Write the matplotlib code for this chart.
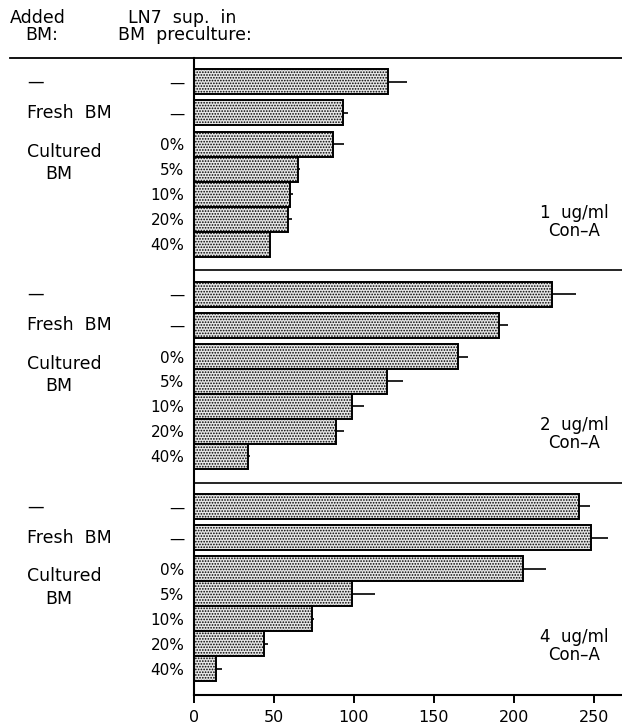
import matplotlib
matplotlib.use("Agg")
import matplotlib.pyplot as plt
import matplotlib.transforms as mtransforms
from matplotlib.lines import Line2D

plt.rcParams['font.family'] = ['DejaVu Sans']
plt.rcParams['hatch.linewidth'] = 0.8

# dados
linhas = ["—", "—", "0%", "5%", "10%", "20%", "40%"]
paineis = ["1  ug/ml\nCon–A", "2  ug/ml\nCon–A", "4  ug/ml\nCon–A"]

valores_1 = [121, 93, 87, 65, 60, 59, 47.5]
erros_1 = [12, 3, 7, 1, 2, 2.5, 0]
valores_2 = [224, 190.5, 165, 120.5, 99, 89, 33.5]
erros_2 = [15, 5.5, 6, 10, 7, 5, 1.5]
valores_4 = [240.5, 248, 205.5, 99, 74, 44, 14]
erros_4 = [7, 10.5, 14.5, 14, 0.7, 2.5, 3.5]

valores = [valores_1, valores_2, valores_4]
erros = [erros_1, erros_2, erros_4]

# posicoes dentro de cada painel (altura 8.5)
pos = [0.95, 2.2, 3.45, 4.45, 5.45, 6.45, 7.45]
alt_painel = 8.5

fig = plt.figure(figsize=(6.22, 7.25), dpi=100)
ax = fig.add_axes([194/622, 1-695/725, 1-194/622, (695-58)/725])
tr = mtransforms.blended_transform_factory(fig.transFigure, ax.transData)

yt = []
ytl = []
for k in range(3):
    y = [alt_painel*k + p for p in pos]
    ax.barh(y, valores[k], height=1.0, color='#e6e6e6', edgecolor='black',
            linewidth=1.4, hatch='......')
    ax.errorbar(valores[k], y, xerr=[[0]*7, erros[k]], fmt='none',
                ecolor='black', elinewidth=1.2, capsize=0)
    yt += y
    ytl += linhas
    ax.text(574/622, alt_painel*k + 6.55, paineis[k], transform=tr,
            ha='center', va='center', fontsize=12,
            multialignment='center', linespacing=1.0)
    if k > 0:
        ax.axhline(alt_painel*k, color='black', lw=1.2)

ax.set_ylim(alt_painel*3, 0)
ax.set_xlim(0, (622-194)/1.6)
ax.set_xticks([0, 50, 100, 150, 200, 250])
ax.set_yticks(yt)
ax.set_yticklabels(ytl, fontsize=11)
ax.tick_params(axis='y', length=0, pad=7)
ax.tick_params(axis='x', length=6, width=1.4, labelsize=11.5, pad=5)
ax.spines['right'].set_visible(False)
ax.spines['top'].set_visible(False)
ax.spines['left'].set_linewidth(1.5)
ax.spines['bottom'].set_linewidth(1.5)

# rotulos da esquerda
for k in range(3):
    b = alt_painel*k
    ax.text(27/622, b + pos[0], "—", transform=tr, va='center', fontsize=12)
    ax.text(27/622, b + pos[1], "Fresh  BM", transform=tr, va='center', fontsize=12.5)
    ax.text(27/622, b + pos[2] + 0.3, "Cultured", transform=tr, va='center', fontsize=12.5)
    ax.text(45/622, b + pos[2] + 1.2, "BM", transform=tr, va='center', fontsize=12.5)

# cabecalho
fig.text(10/622, 1-18/725, "Added", va='center', fontsize=12.5)
fig.text(25/622, 1-35/725, "BM:", va='center', fontsize=12.5)
fig.text(128/622, 1-18/725, "LN7  sup.  in", va='center', fontsize=12.5)
fig.text(118/622, 1-35/725, "BM  preculture:", va='center', fontsize=12.5)
fig.add_artist(Line2D([10/622, 1], [1-58/725, 1-58/725], color='black', lw=1.3))

fig.savefig("out.png", dpi=100)
